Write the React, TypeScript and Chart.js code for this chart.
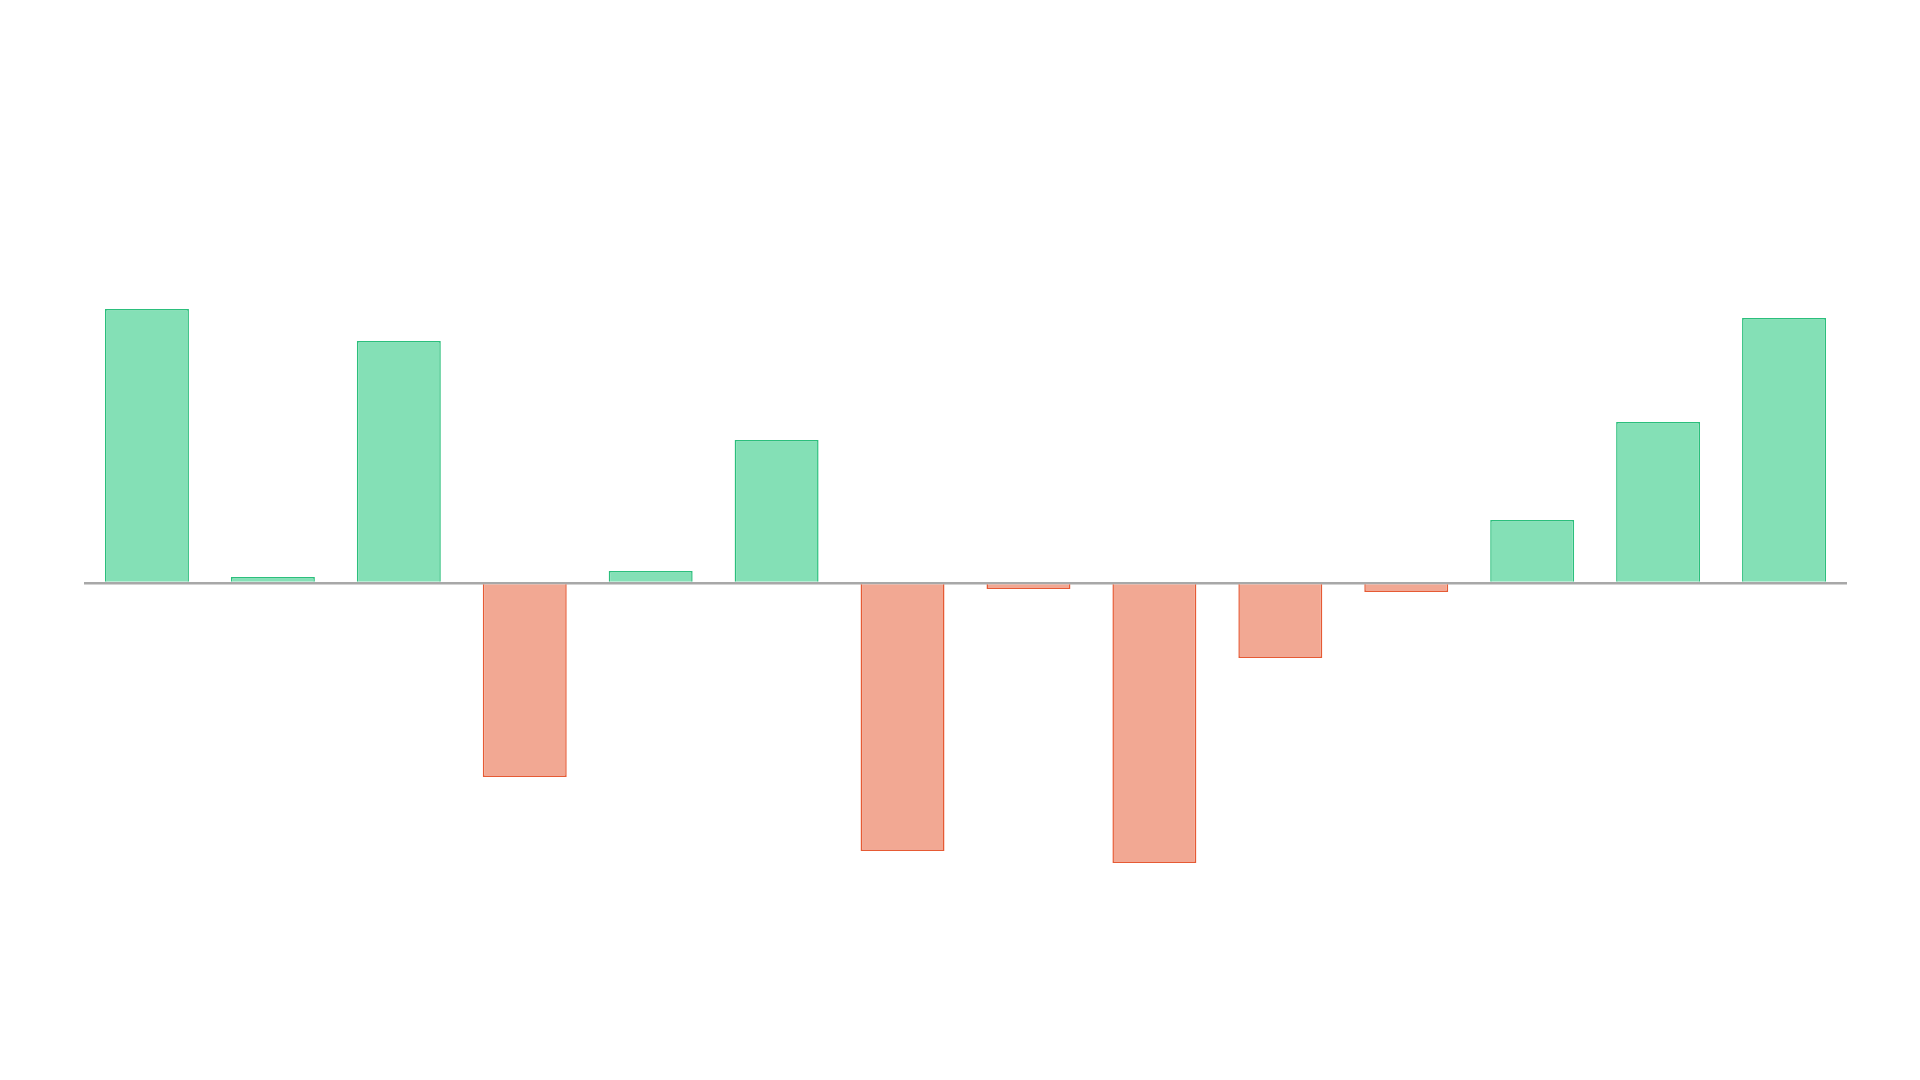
import Chart from 'chart.js/auto';
import { useEffect, useRef } from 'react';

const labels = ['1', '2', '3', '4', '5', '6', '7', '8', '9', '10', '11', '12', '13', '14'];
const values = [27.4, 0.6, 24.2, -19.4, 1.2, 14.3, -26.8, -0.6, -28.0, -7.5, -0.9, 6.3, 16.1, 26.5];
const yMin = -40;
const yMax = 40;

const upFill = '#84E0B6';
const upLine = '#2BBF7C';
const downFill = '#F2A893';
const downLine = '#E65A34';

export default function App() {
	const canvasRef = useRef<HTMLCanvasElement | null>(null);

	useEffect(() => {
		if (!canvasRef.current) return;
		const chart = new Chart(canvasRef.current, {
			type: 'bar',
			data: {
				labels,
				datasets: [{
					data: values,
					backgroundColor: values.map(v => (v >= 0 ? upFill : downFill)),
					borderColor: values.map(v => (v >= 0 ? upLine : downLine)),
					borderWidth: 1.5,
					categoryPercentage: 0.8,
					barPercentage: 0.8333,
				}],
			},
			options: {
				animation: false,
				responsive: true,
				maintainAspectRatio: false,
				layout: { padding: { left: 84, right: 73, top: 183, bottom: 97 } },
				plugins: { legend: { display: false }, tooltip: { enabled: false } },
				scales: {
					x: { display: false },
					y: {
						min: yMin,
						max: yMax,
						z: 1,
						afterFit: (s: any) => { s.width = 0; },
						ticks: { display: false, stepSize: 10 },
						border: { display: false },
						grid: {
							drawTicks: false,
							lineWidth: 2.5,
							color: (ctx: any) => (ctx.tick && ctx.tick.value === 0 ? '#a8a8a8' : 'rgba(0,0,0,0)'),
						},
					},
				},
			},
		});
		return () => chart.destroy();
	}, []);

	return (
		<div style={{ position: 'absolute', left: 0, top: 0, width: 1920, height: 1080, background: '#fff' }}>
			<canvas ref={canvasRef}></canvas>
		</div>
	);
}
